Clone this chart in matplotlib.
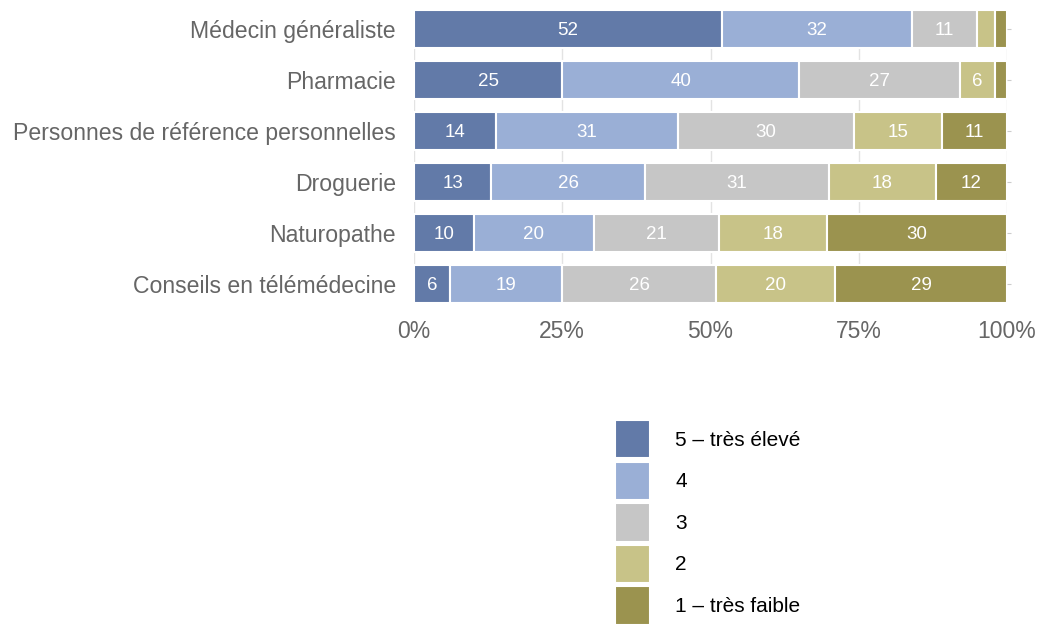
import matplotlib
matplotlib.use("Agg")
import matplotlib.pyplot as plt
import numpy as np
from matplotlib.ticker import PercentFormatter

plt.rcParams['font.family'] = ['Liberation Sans', 'DejaVu Sans']

categories = ["Médecin généraliste", "Pharmacie",
              "Personnes de référence personnelles", "Droguerie",
              "Naturopathe", "Conseils en télémédecine"]
s5 = [52, 25, 14, 13, 10, 6]
s4 = [32, 40, 31, 26, 20, 19]
s3 = [11, 27, 30, 31, 21, 26]
s2 = [3, 6, 15, 18, 18, 20]
s1 = [2, 2, 11, 12, 30, 29]
series_labels = ["5 – très élevé", "4", "3", "2", "1 – très faible"]
colors = ["#627AA8", "#9AAFD6", "#C6C6C6", "#C8C388", "#9B934F"]

data = np.array([s5, s4, s3, s2, s1], dtype=float)
shares = data / data.sum(axis=0) * 100
y = np.arange(len(categories))

fig = plt.figure(figsize=(10.39, 6.24), dpi=100)
ax = fig.add_axes([414 / 1039, 1 - 303 / 624, 593 / 1039, 293 / 624])

left = np.zeros(len(categories))
handles = []
for k in range(len(series_labels)):
    bars = ax.barh(y, shares[k], left=left, height=0.745, color=colors[k],
                   edgecolor="white", linewidth=1.5, label=series_labels[k],
                   zorder=2)
    handles.append(bars)
    for i, v in enumerate(data[k]):
        if v >= 5:
            ax.text(left[i] + shares[k][i] / 2, y[i] + 0.03, f"{int(v)}",
                    ha="center", va="center", color="white", fontsize=13.5,
                    zorder=3)
    left += shares[k]

ax.set_xlim(0, 100)
ax.set_ylim(len(categories) - 1 + 0.3725, -0.3725)
ax.set_yticks(y)
ax.set_yticklabels(categories)
ax.set_xticks([0, 25, 50, 75, 100])
ax.xaxis.set_major_formatter(PercentFormatter(decimals=0))
ax.tick_params(axis="y", left=False, right=True, length=3, color="#cccccc",
               labelsize=16.6, labelcolor="#666666", pad=10)
ax.tick_params(axis="x", length=0, labelsize=16.5, labelcolor="#666666", pad=12)
for sp in ax.spines.values():
    sp.set_visible(False)
ax.grid(axis="x", color="#e3e3e3", linewidth=1, zorder=0)
ax.set_axisbelow(True)

fig.legend(handles=handles, labels=series_labels, loc="upper left",
           bbox_to_anchor=(615 / 1039, 1 - 420 / 624), frameon=False,
           fontsize=15, handlelength=1.68, handleheight=2.45,
           labelspacing=0.16, handletextpad=1.2, borderpad=0,
           borderaxespad=0)

fig.savefig("out.png", dpi=100)
